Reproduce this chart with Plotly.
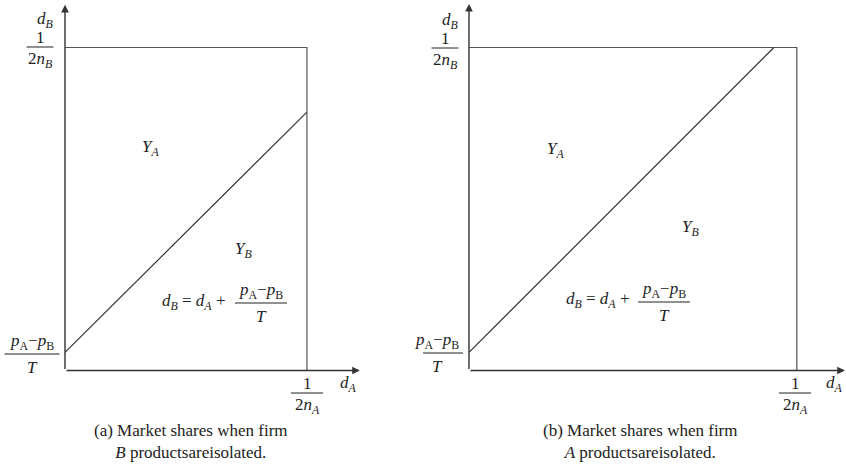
import plotly.graph_objects as go

# dati (unità: altezza del riquadro = 1/(2 n_B) = 1)
box_w = [0.749, 1.015]          # larghezza riquadro 1/(2 n_A) nei due pannelli
box_h = [1.0, 1.0]              # altezza riquadro 1/(2 n_B)
intercetta = [0.056, 0.056]     # (p_A - p_B)/T
linea_x = [[0.0, 0.749], [0.0, 0.944]]
linea_y = [[0.056, 0.80], [0.056, 1.0]]
asse_x_max = [0.913, 1.164]
asse_y_max = [1.132, 1.135]
didascalie = ["(a) Market shares when firm<br><i>B</i> productsareisolated.",
              "(b) Market shares when firm<br><i>A</i> productsareisolated."]

W, H = 846, 467
S = 323.0          # pixel per unità
OX = [65, 469]     # origine in pixel (x)
OY = 370.5         # origine in pixel (y dall'alto)
FONT = "Liberation Serif, Times New Roman, serif"
COL = "#333333"
TXT = "#222222"

fig = go.Figure()
xa = ["x", "x2"]
ya = ["y", "y2"]

for i in range(2):
    w = box_w[i]
    h = box_h[i]
    # riquadro
    fig.add_trace(go.Scatter(x=[0, w, w], y=[h, h, 0], mode="lines",
                             line=dict(color="#555555", width=1.2),
                             xaxis=xa[i], yaxis=ya[i], hoverinfo="skip"))
    # retta d_B = d_A + (p_A - p_B)/T
    fig.add_trace(go.Scatter(x=linea_x[i], y=linea_y[i], mode="lines",
                             line=dict(color=COL, width=1.2),
                             xaxis=xa[i], yaxis=ya[i], hoverinfo="skip"))
    # assi con frecce
    for (tx, ty) in [(asse_x_max[i], 0), (0, asse_y_max[i])]:
        fig.add_annotation(x=tx, y=ty, ax=0, ay=0, xref=xa[i], yref=ya[i],
                           axref=xa[i], ayref=ya[i], text="", showarrow=True,
                           font=dict(size=10),
                           arrowhead=2, arrowsize=1.1, arrowwidth=1.4, arrowcolor=COL)


def d(i, px, py):
    return (px - OX[i]) / S, (OY - py) / S


def lab(i, px, py, text, size=17):
    x, y = d(i, px, py)
    fig.add_annotation(x=x, y=y, xref=xa[i], yref=ya[i], text=text, showarrow=False,
                       font=dict(family=FONT, size=size, color=TXT),
                       xanchor="center", yanchor="middle")


def frac(i, px, py, num, den, wpx, size=17, su=10):
    x, y = d(i, px, py)
    fig.add_shape(type="line", xref=xa[i], yref=ya[i], xsizemode="pixel", xanchor=x,
                  x0=-wpx / 2, x1=wpx / 2, ysizemode="pixel", yanchor=y, y0=0, y1=0,
                  line=dict(color=TXT, width=1))
    lab(i, px, py - su, num, size)
    lab(i, px, py + 13, den, size)


dB = "<i>d</i><sub><i>B</i></sub>"
dA = "<i>d</i><sub><i>A</i></sub>"
pApB = "<i>p</i><sub>A</sub>\u2212<i>p</i><sub>B</sub>"
nB = "2<i>n</i><sub><i>B</i></sub>"
nA = "2<i>n</i><sub><i>A</i></sub>"
YA = "<i>Y</i><sub><i>A</i></sub>"
YB = "<i>Y</i><sub><i>B</i></sub>"
eq = dB + " = " + dA + " +"

# pannello (a)
lab(0, 45, 20, dB)
frac(0, 40, 47, "1", nB, 27)
frac(0, 32, 354, pApB, "<i>T</i>", 55, su=12)
frac(0, 307, 393, "1", nA, 32)
lab(0, 348, 384, dA)
lab(0, 150, 148, YA)
lab(0, 243, 250, YB)
lab(0, 193, 302, eq)
frac(0, 261, 303, pApB, "<i>T</i>", 52, su=12)

# pannello (b)
lab(1, 450, 21, dB)
frac(1, 445, 48, "1", nB, 27)
frac(1, 437, 353, pApB, "<i>T</i>", 52, su=12)
frac(1, 795, 393, "1", nA, 32)
lab(1, 834, 384, dA)
lab(1, 555, 150, YA)
lab(1, 690, 228, YB)
lab(1, 597, 300, eq)
frac(1, 664, 302, pApB, "<i>T</i>", 52, su=12)

for i, cx in enumerate([191, 640]):
    x, y = d(i, cx, 441)
    fig.add_annotation(x=x, y=y, xref=xa[i], yref=ya[i], text=didascalie[i],
                       showarrow=False, align="center",
                       font=dict(family=FONT, size=17, color=TXT))

# assi invisibili con scala 1 unità = S pixel
yr = [-(H - OY) / S, OY / S]
fig.update_layout(
    width=W, height=H, showlegend=False,
    margin=dict(l=0, r=0, t=0, b=0),
    plot_bgcolor="white", paper_bgcolor="white",
    xaxis=dict(domain=[0, 0.5], range=[-OX[0] / S, (W / 2 - OX[0]) / S], visible=False),
    xaxis2=dict(domain=[0.5, 1], range=[-(OX[1] - W / 2) / S, (W - OX[1]) / S], visible=False),
    yaxis=dict(domain=[0, 1], range=yr, visible=False),
    yaxis2=dict(domain=[0, 1], range=yr, visible=False, anchor="x2"),
)

# niente margine della pagina, la figura occupa tutta la finestra
fig.write_html("out.html", config={"displayModeBar": False},
               post_script="document.body.style.margin='0px';")
